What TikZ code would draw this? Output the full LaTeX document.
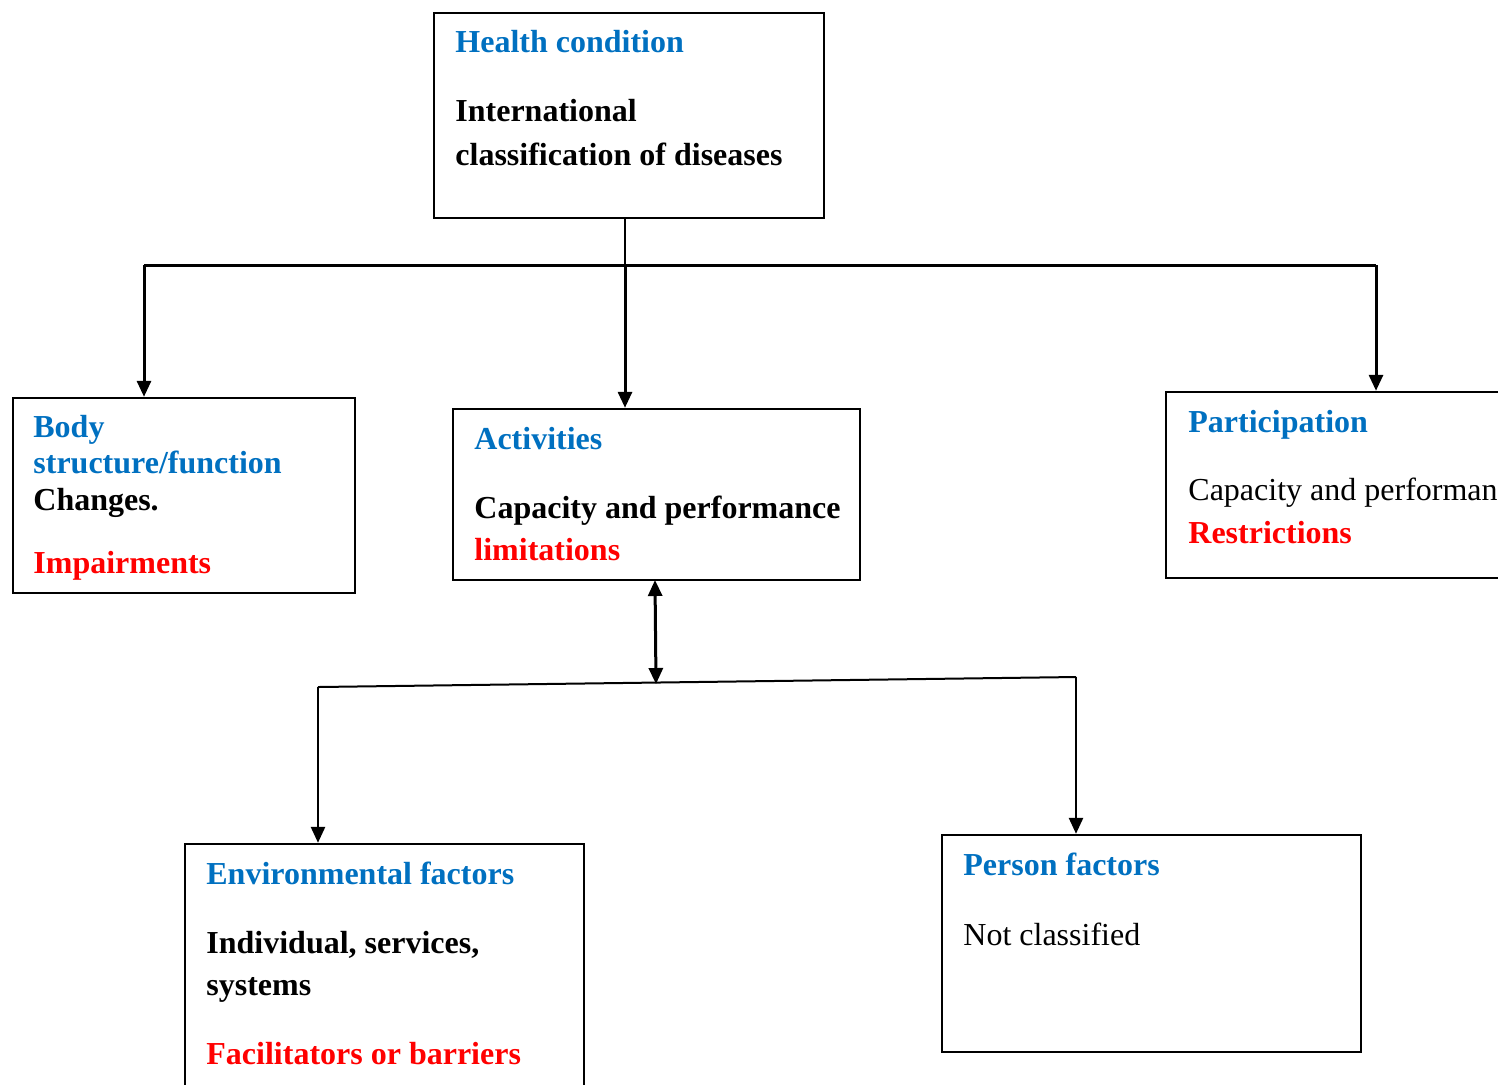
\documentclass[tikz,border=0pt]{standalone}
\usepackage{fontspec}
\setmainfont{Liberation Serif}
\usetikzlibrary{arrows.meta,fit}
\definecolor{hblue}{HTML}{0070C0}
\definecolor{hred}{HTML}{FF0000}
\begin{document}
\begin{tikzpicture}[x=0.5pt,y=-0.5pt,
  box/.style={draw=black, line width=1.2pt, inner sep=0pt, rectangle},
  txt/.style={inner sep=0pt, anchor=base west, font=\fontsize{16}{19}\selectfont},
  ttl/.style={txt, text=hblue, font=\fontsize{16}{19}\selectfont\bfseries},
  bl/.style={txt, font=\fontsize{16}{19}\selectfont\bfseries},
  rd/.style={txt, text=hred, font=\fontsize{16}{19}\selectfont\bfseries},
  conn/.style={line width=1.5pt},
  arr/.style={line width=1.5pt, -{Triangle[width=7pt,length=8pt]}},
  darr/.style={line width=1.5pt, {Triangle[width=7pt,length=8pt]}-{Triangle[width=7pt,length=8pt]}}
]
\useasboundingbox (0,0) rectangle (1498,1084);
\clip (0,0) rectangle (1498,1084);

% boxes
\node[box, fit={(434,13) (824,218)}] (hc) {};
\node[box, fit={(13,398) (355,593)}] (body) {};
\node[box, fit={(453,409) (860,580)}] (act) {};
\node[box, fit={(1166,392) (1530,578)}] (part) {};
\node[box, fit={(185,844) (584,1110)}] (env) {};
\node[box, fit={(942,835) (1361,1052)}] (pf) {};

% texts
\node[ttl] (hct) at (455,52) {Health condition};
\node[bl] (hc1) at (455,121) {International};
\node[bl] (hc2) at (455,165) {classification of diseases};

\node[ttl] (bt1) at (33,437) {Body};
\node[ttl] (bt2) at (33,473) {structure/function};
\node[bl] (b1) at (33,510) {Changes.};
\node[rd] (b2) at (33,573) {Impairments};

\node[ttl] (at) at (474,449) {Activities};
\node[bl] (a1) at (474,518) {Capacity and performance};
\node[rd] (a2) at (474,560) {limitations};

\node[ttl] (pt) at (1188,432) {Participation};
\node[txt] (p1) at (1188,500) {Capacity and performance};
\node[rd] (p2) at (1188,543) {Restrictions};

\node[ttl] (et) at (206,884) {Environmental factors};
\node[bl] (e1) at (206,953) {Individual, services,};
\node[bl] (e2) at (206,995) {systems};
\node[rd] (e3) at (206,1064) {Facilitators or barriers};

\node[ttl] (pft) at (963,875) {Person factors};
\node[txt] (pf1) at (963,945) {Not classified};

% connectors
\coordinate (jL) at (144,265);
\coordinate (jM) at (625,265);
\coordinate (jR) at (1376,265);
\draw[line width=0.8pt] (hc.south -| jM) -- (jM);
\draw[conn] (jL) -- (jR);
\draw[arr] (jL) -- (jL |- body.north);
\draw[arr] (jM) -- (jM |- act.north);
\draw[arr] (jR) -- (jR |- part.north);

\coordinate (dm) at (656,684);
\draw[darr] (655,580) coordinate (du) -- (dm);

\coordinate (eL) at (318,687);
\coordinate (eR) at (1076,677);
\draw[line width=1pt] (eL) -- (eR);
\draw[arr, line width=1.3pt] (eL) -- (eL |- env.north);
\draw[arr, line width=1.3pt] (eR) -- (eR |- pf.north);
\end{tikzpicture}
\end{document}
